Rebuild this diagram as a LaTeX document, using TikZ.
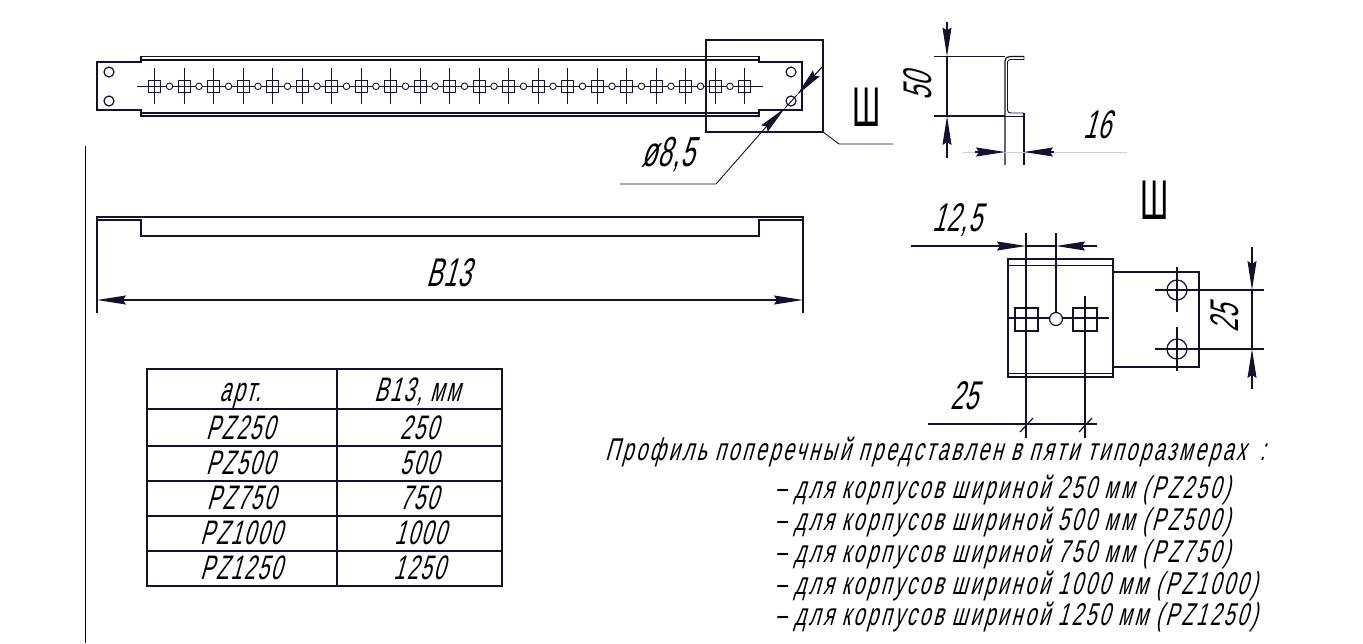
\documentclass[tikz,border=0pt]{standalone}
\usepackage{fontspec}
\usetikzlibrary{arrows.meta}
\setmainfont[FakeSlant=0.28,FakeStretch=0.62,LetterSpace=9]{Liberation Sans}
\newfontfamily\upfont[FakeStretch=0.55]{Liberation Sans}
\newfontfamily\dimfont[FakeSlant=0.28,FakeStretch=0.6,LetterSpace=2]{Liberation Sans}
\newfontfamily\cellfont[FakeSlant=0.28,FakeStretch=0.6,LetterSpace=6]{Liberation Sans}
\definecolor{ink}{HTML}{14102E}
\tikzset{
  ln/.style={draw=ink,line width=1.2pt},
  thin ln/.style={draw=ink,line width=.9pt},
  top ln/.style={draw=ink,line width=1.8pt},
  heavy/.style={draw=ink,line width=2.8pt},
  faint/.style={draw=black!18,line width=.6pt},
  tipend/.style={-{Stealth[length=29pt,width=9pt,inset=3pt]},draw=ink,line width=1.1pt,fill=black},
  tipboth/.style={{Stealth[length=29pt,width=9pt,inset=3pt]}-{Stealth[length=29pt,width=9pt,inset=3pt]},draw=ink,line width=1.2pt},
  dimtxt/.style={font=\dimfont\fontsize{40pt}{40pt}\selectfont,inner sep=0pt,text=black},
  celltxt/.style={font=\cellfont\fontsize{34pt}{34pt}\selectfont,inner sep=0pt,text=black,anchor=base},
  bodytxt/.style={font=\fontsize{31.5pt}{31.5pt}\selectfont,inner sep=0pt,text=black,anchor=base west},
  sect/.style={font=\upfont\fontsize{56pt}{56pt}\selectfont,inner sep=0pt,text=black}
}
\begin{document}
\begin{tikzpicture}[x=1pt,y=-1pt]
\useasboundingbox (0,0) rectangle (1363,643);
\fill[white] (0,0) rectangle (1363,643);
% page edge
\draw[draw=black,line width=1pt] (85.5,146) -- (85.5,643);
% top view: profile
\draw[ln] (97,62) -- (141,62) -- (141,56.5) -- (759,56.5) -- (759,62) -- (802,62) -- (802,110) -- (759,110) -- (759,116) -- (141,116) -- (141,110) -- (97,110) -- cycle;
\draw[top ln] (141,56.5) -- (759,56.5) (141,116) -- (759,116);
\draw[ln] (141,60) -- (759,60) (141,113) -- (759,113);
\foreach \yy in {72,101}{
  \draw[ln] (109,\yy) circle (5);
  \draw[ln] (791,\yy) circle (5);
}
\draw[thin ln] (137,86) -- (763,86);
\foreach \k in {0,...,20}{
  \pgfmathsetmacro{\xx}{154.5+29.5*\k}
  \draw[thin ln] (\xx-6,80) rectangle (\xx+6,92);
  \draw[thin ln] (\xx,68) -- (\xx,104);
}
\foreach \k in {0,...,19}{
  \pgfmathsetmacro{\xx}{169.5+29.5*\k}
  \draw[thin ln,fill=white] (\xx,86.3) circle (3.3);
}
% detail frame
\draw[ln] (706,40) rectangle (823,132);
\draw[thin ln] (823,132) -- (839,144) -- (893,144);
\node[sect] (shA) at (866.5,107) {Ш};
% diameter
\draw[thin ln] (620,184) -- (716,184) -- (766,127);
\draw[tipend] (766,127) -- (785,108);
\draw[thin ln] (785,108) -- (797,95);
\draw[tipend] (822,67) -- (797,95);
\node[dimtxt,font=\dimfont\fontsize{42pt}{42pt}\selectfont] (dia) at (668,155) {ø8,5};
% side section
\draw[ln] (1024,56.5) -- (1010,56.5) .. controls (1007,56.5) and (1005,58) .. (1005,61) -- (1005,165);
\draw[thin ln] (1024,56.5) -- (1024,59.5) -- (1011,59.5) .. controls (1009,59.5) and (1007.5,60.5) .. (1007.5,62) -- (1007.5,110) .. controls (1007.5,112) and (1009,113) .. (1011,113) -- (1024,113);
\draw[ln] (1024,113) -- (1024,165);
\draw[thin ln] (1005,116) -- (1024,116);
\draw[ln] (934,56.5) -- (1005,56.5) (934,116) -- (1005,116);
\draw[tipend] (947,22) -- (947,56.5);
\draw[tipend] (947,158) -- (947,116);
\draw[ln] (947,56.5) -- (947,116);
\draw[faint] (963,152) -- (1127,152);
\draw[tipend] (975,152) -- (1005,152);
\draw[tipend] (1054,152) -- (1024,152);
\node[dimtxt,rotate=90] (d50) at (918,87) {50};
\node[dimtxt] (d16) at (1097,125) {16};
% section view
\node[sect] (shB) at (1154.5,200) {Ш};
\draw[ln] (1008,259) rectangle (1113,377);
\draw[thin ln] (1008,265) -- (1113,265) (1008,373) -- (1113,373);
\draw[ln] (1113,272) -- (1199,272) -- (1199,367) -- (1113,367);
\foreach \yy in {290,349}{
  \draw[ln] (1177,\yy) circle (10);
  \draw[ln] (1155,\yy) -- (1264,\yy);
}
\draw[ln] (1177,267) -- (1177,312) (1177,327) -- (1177,371);
\draw[tipend] (1252,247) -- (1252,290);
\draw[tipend] (1252,389) -- (1252,349);
\draw[ln] (1252,290) -- (1252,349);
\draw[ln] (1015,308) rectangle (1038,331);
\draw[ln] (1073,308) rectangle (1097,331);
\draw[heavy] (1008,318) -- (1109,318);
\draw[ln,fill=white] (1056,319) circle (6.5);
\draw[ln] (1026,233) -- (1026,438) (1056,233) -- (1056,312) (1085,296) -- (1085,438);
\draw[tipend] (911,246) -- (1026,246);
\draw[tipend] (1097,246) -- (1056,246);
\draw[ln] (1026,246) -- (1056,246);
\draw[ln] (928,424) -- (1097,424);
\draw[ln] (1020,432) -- (1033,418) (1079,432) -- (1092,418);
\node[dimtxt] (d125) at (957,220) {12,5};
\node[dimtxt] (d25a) at (964,396) {25};
\node[dimtxt,rotate=90] (d25b) at (1225,319) {25};
% length view
\draw[ln] (97,313) -- (97,217) -- (803,217) -- (803,313);
\draw[ln] (97,220) -- (141,220) -- (141,236) -- (759,236) -- (759,220) -- (803,220);
\draw[tipboth] (97,300) -- (803,300);
\node[dimtxt] (b13) at (449,273) {B13};
% table
\draw[ln,line width=1.3pt] (147,369) rectangle (502,586);
\draw[ln,line width=1.3pt] (337,369) -- (337,586);
\foreach \yy in {409,446,481,516,551}{\draw[ln] (147,\yy) -- (502,\yy);}
\node[celltxt] (h1) at (240,401) {арт.};
\node[celltxt] (h2) at (417,401) {B13, мм};
\node[celltxt] (a1) at (240,439) {PZ250};
\node[celltxt] (b1) at (419,439) {250};
\node[celltxt] (a2) at (240,474) {PZ500};
\node[celltxt] (b2) at (419,474) {500};
\node[celltxt] (a3) at (241,509) {PZ750};
\node[celltxt] (b3) at (419,509) {750};
\node[celltxt] (a4) at (241,544) {PZ1000};
\node[celltxt] (b4) at (420,544) {1000};
\node[celltxt] (a5) at (241,579) {PZ1250};
\node[celltxt] (b5) at (419,579) {1250};
% notes
\node[bodytxt] (n0) at (605,460) {Профиль поперечный представлен в пяти типоразмерах\hspace{14pt}:};
\node[bodytxt] (n1) at (775,498) {– для корпусов шириной 250 мм (PZ250)};
\node[bodytxt] (n2) at (775,530) {– для корпусов шириной 500 мм (PZ500)};
\node[bodytxt] (n3) at (775,562) {– для корпусов шириной 750 мм (PZ750)};
\node[bodytxt] (n4) at (775,594) {– для корпусов шириной 1000 мм (PZ1000)};
\node[bodytxt] (n5) at (775,625) {– для корпусов шириной 1250 мм (PZ1250)};
\end{tikzpicture}
\end{document}
